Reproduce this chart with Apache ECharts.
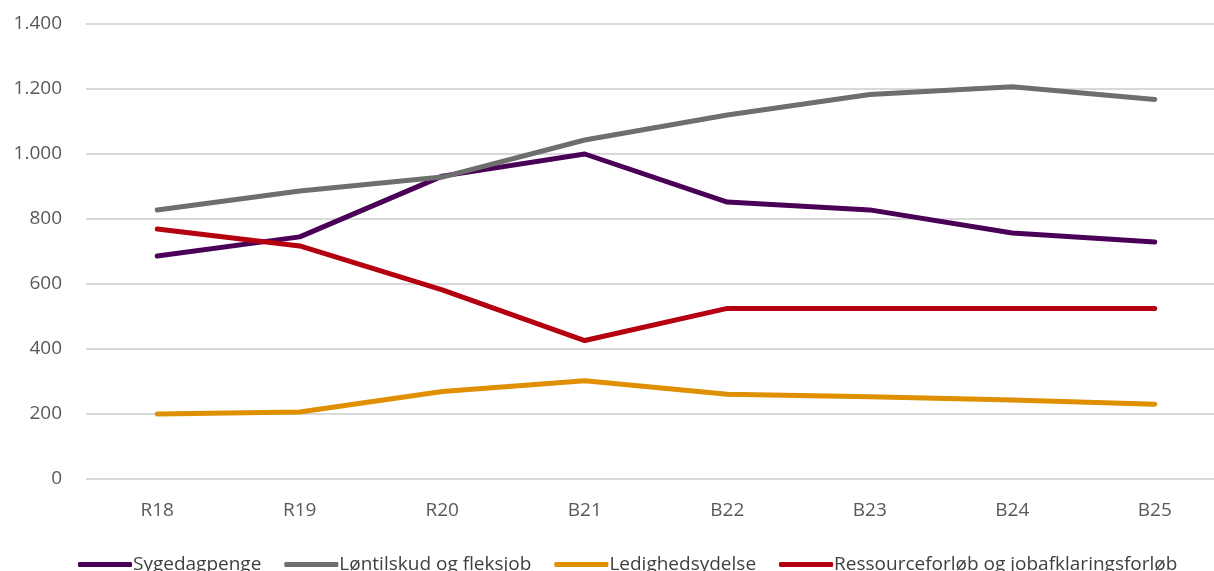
<!DOCTYPE html>
<html>
<head>
<meta charset="utf-8">
<script src="https://cdn.jsdelivr.net/npm/echarts@6/dist/echarts.min.js"></script>
<style>html,body{margin:0;padding:0;background:#fff;overflow:hidden;}#c{width:1226px;height:571px;}</style>
</head>
<body>
<div id="c"></div>
<script>
const categories = ['R18','R19','R20','B21','B22','B23','B24','B25'];
const seriesNames = ['Sygedagpenge','Løntilskud og fleksjob','Ledighedsydelse','Ressourceforløb og jobafklaringsforløb'];
const sygedagpenge = [686, 745, 932, 1000, 852, 828, 757, 729];
const loentilskud = [828, 886, 929, 1043, 1120, 1183, 1207, 1168];
const ledighedsydelse = [200, 206, 269, 302, 261, 253, 243, 230];
const ressourceforloeb = [769, 717, 582, 426, 525, 525, 525, 525];
const yTicks = {min: 0, max: 1400, interval: 200};
const colors = ['#4A0057', '#6E6E6E', '#DF8F00', '#B5000F'];

const chart = echarts.init(document.getElementById('c'), null, {renderer: 'canvas'});
const allData = [sygedagpenge, loentilskud, ledighedsydelse, ressourceforloeb];
const font = 'Open Sans, sans-serif';
chart.setOption({
  animation: false,
  color: colors,
  grid: {left: 86, right: 0, top: 24, bottom: 92, containLabel: false},
  legend: {
    top: 550, left: 73,
    itemWidth: 54, itemHeight: 5, itemGap: 23,
    icon: 'roundRect',
    textStyle: {fontFamily: font, fontSize: 19, color: '#404040', padding: [0,0,0,-4]},
    data: seriesNames
  },
  xAxis: {
    type: 'category', data: categories, boundaryGap: true,
    axisLine: {show: false}, axisTick: {show: false},
    axisLabel: {fontFamily: font, fontSize: 19, color: '#595959', margin: 22}
  },
  yAxis: {
    type: 'value', min: yTicks.min, max: yTicks.max, interval: yTicks.interval,
    axisLine: {show: false}, axisTick: {show: false},
    splitLine: {lineStyle: {color: '#D9D9D9', width: 2}},
    axisLabel: {fontFamily: font, fontSize: 19, color: '#595959', margin: 24,
      formatter: v => v.toString().replace(/\B(?=(\d{3})+(?!\d))/g, '.')}
  },
  series: seriesNames.map((n, i) => ({
    name: n, type: 'line', data: allData[i], symbol: 'none',
    lineStyle: {width: 5, cap: 'round', join: 'round'}
  }))
});
</script>
</body>
</html>
